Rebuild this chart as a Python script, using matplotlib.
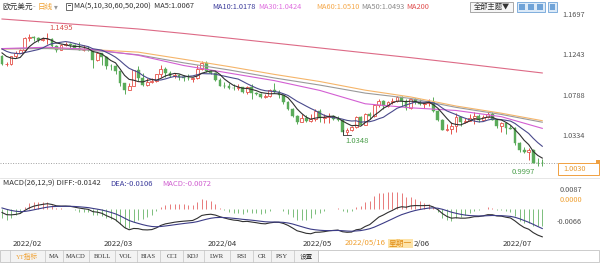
import numpy as np
import pandas as pd
import matplotlib
matplotlib.use("Agg")
import matplotlib.pyplot as plt
from matplotlib.patches import Rectangle
from matplotlib.transforms import blended_transform_factory

plt.rcParams['font.family'] = ['Noto Sans CJK SC', 'DejaVu Sans']

W, H = 600, 267

# closes before the first visible candle (warm-up for MA5 / MA10 / MACD)
pre_close = [1.1285, 1.1260, 1.1290, 1.1330, 1.1240, 1.1280, 1.1280, 1.1330,
             1.1330, 1.1320, 1.1330, 1.1310, 1.1350, 1.1325, 1.1370, 1.1300,
             1.1290, 1.1315, 1.1295, 1.1360, 1.1325, 1.1365, 1.1440, 1.1455,
             1.1410, 1.1405, 1.1325, 1.1345, 1.1310, 1.1345, 1.1325, 1.1302,
             1.1240]

# daily candles 2022-01-27 .. 2022-07-13
opens = [1.1240, 1.1142, 1.1147,
         1.1235, 1.1270, 1.1303, 1.1440, 1.1453, 1.1440, 1.1418, 1.1422, 1.1425, 1.1350,
         1.1305, 1.1358, 1.1375, 1.1360, 1.1322, 1.1307, 1.1308, 1.1307, 1.1190, 1.1270,
         1.1220, 1.1125, 1.1120, 1.1065, 1.0930, 1.0855, 1.0900, 1.1075, 1.0985, 1.0912,
         1.0940, 1.0955, 1.1030, 1.1090, 1.1050, 1.1015, 1.1020, 1.1005, 1.0995, 1.0980,
         1.0985, 1.1090, 1.1160,
         1.1067, 1.1045, 1.0970, 1.0905, 1.0900, 1.0880, 1.0877, 1.0885, 1.0830, 1.0890,
         1.0825, 1.0810, 1.0780, 1.0790, 1.0855, 1.0835, 1.0795, 1.0715, 1.0640, 1.0560,
         1.0500,
         1.0545, 1.0505, 1.0525, 1.0620, 1.0540, 1.0550, 1.0560, 1.0530, 1.0515, 1.0380,
         1.0410, 1.0435, 1.0550, 1.0465, 1.0585, 1.0560, 1.0690, 1.0735, 1.0675, 1.0725,
         1.0730, 1.0780,
         1.0735, 1.0650, 1.0750, 1.0720, 1.0695, 1.0705, 1.0715, 1.0615, 1.0520, 1.0410,
         1.0415, 1.0445, 1.0550, 1.0495, 1.0510, 1.0535, 1.0565, 1.0520, 1.0555, 1.0585,
         1.0520, 1.0445,
         1.0485, 1.0425, 1.0425, 1.0265, 1.0180, 1.0160, 1.0185, 1.0040, 1.0035]
highs = [1.1245, 1.1174, 1.1240,
         1.1290, 1.1315, 1.1450, 1.1483, 1.1460, 1.1450, 1.1450, 1.1495, 1.1440, 1.1365,
         1.1370, 1.1395, 1.1385, 1.1375, 1.1395, 1.1360, 1.1345, 1.1320, 1.1275, 1.1275,
         1.1235, 1.1150, 1.1140, 1.1070, 1.0935, 1.0935, 1.1080, 1.1121, 1.1045, 1.0990,
         1.0990, 1.1040, 1.1137, 1.1110, 1.1070, 1.1045, 1.1035, 1.1025, 1.1035, 1.1000,
         1.1137, 1.1185, 1.1175,
         1.1076, 1.1055, 1.0995, 1.0940, 1.0935, 1.0920, 1.0925, 1.0890, 1.0900, 1.0925,
         1.0835, 1.0820, 1.0815, 1.0870, 1.0935, 1.0855, 1.0800, 1.0735, 1.0650, 1.0575,
         1.0590,
         1.0570, 1.0580, 1.0640, 1.0640, 1.0590, 1.0595, 1.0575, 1.0560, 1.0530, 1.0425,
         1.0445, 1.0560, 1.0565, 1.0600, 1.0605, 1.0695, 1.0750, 1.0745, 1.0730, 1.0765,
         1.0787, 1.0785,
         1.0750, 1.0755, 1.0765, 1.0750, 1.0710, 1.0750, 1.0775, 1.0625, 1.0525, 1.0470,
         1.0500, 1.0600, 1.0550, 1.0545, 1.0580, 1.0605, 1.0580, 1.0570, 1.0605, 1.0605,
         1.0530, 1.0490,
         1.0485, 1.0465, 1.0440, 1.0275, 1.0220, 1.0200, 1.0190, 1.0095, 1.0085]
lows = [1.1137, 1.1121, 1.1138,
        1.1210, 1.1265, 1.1290, 1.1410, 1.1410, 1.1390, 1.1400, 1.1375, 1.1340, 1.1280,
        1.1300, 1.1345, 1.1315, 1.1310, 1.1300, 1.1290, 1.1295, 1.1106, 1.1180, 1.1140,
        1.1090, 1.1075, 1.1040, 1.0900, 1.0806, 1.0850, 1.0900, 1.0960, 1.0900, 1.0905,
        1.0930, 1.0945, 1.1000, 1.1004, 1.1000, 1.0995, 1.0965, 1.0960, 1.0970, 1.0945,
        1.0975, 1.1080, 1.1060,
        1.1030, 1.0960, 1.0900, 1.0875, 1.0870, 1.0860, 1.0860, 1.0820, 1.0810, 1.0758,
        1.0800, 1.0760, 1.0770, 1.0780, 1.0825, 1.0760, 1.0695, 1.0635, 1.0555, 1.0470,
        1.0490,
        1.0490, 1.0490, 1.0505, 1.0490, 1.0485, 1.0485, 1.0520, 1.0505, 1.0355, 1.0348,
        1.0390, 1.0425, 1.0460, 1.0460, 1.0530, 1.0550, 1.0665, 1.0640, 1.0665, 1.0700,
        1.0720, 1.0680,
        1.0625, 1.0640, 1.0700, 1.0690, 1.0655, 1.0680, 1.0605, 1.0505, 1.0400, 1.0395,
        1.0360, 1.0380, 1.0445, 1.0485, 1.0505, 1.0470, 1.0500, 1.0515, 1.0545, 1.0515,
        1.0425, 1.0385,
        1.0365, 1.0415, 1.0235, 1.0160, 1.0145, 1.0070, 1.0030, 1.0000, 0.9997]
closes = [1.1145, 1.1147, 1.1235,
          1.1270, 1.1303, 1.1440, 1.1453, 1.1440, 1.1418, 1.1422, 1.1425, 1.1350, 1.1305,
          1.1358, 1.1375, 1.1360, 1.1322, 1.1307, 1.1308, 1.1307, 1.1190, 1.1270, 1.1220,
          1.1125, 1.1120, 1.1065, 1.0930, 1.0855, 1.0900, 1.1075, 1.0985, 1.0912, 1.0940,
          1.0955, 1.1030, 1.1090, 1.1050, 1.1015, 1.1020, 1.1005, 1.0995, 1.0985, 1.0985,
          1.1090, 1.1160, 1.1067,
          1.1045, 1.0970, 1.0905, 1.0900, 1.0880, 1.0877, 1.0885, 1.0830, 1.0890, 1.0825,
          1.0810, 1.0780, 1.0790, 1.0855, 1.0835, 1.0795, 1.0715, 1.0640, 1.0560, 1.0500,
          1.0545,
          1.0505, 1.0525, 1.0620, 1.0540, 1.0550, 1.0560, 1.0530, 1.0515, 1.0380, 1.0410,
          1.0435, 1.0550, 1.0465, 1.0585, 1.0560, 1.0690, 1.0735, 1.0675, 1.0725, 1.0730,
          1.0780, 1.0735,
          1.0650, 1.0750, 1.0720, 1.0695, 1.0705, 1.0715, 1.0615, 1.0520, 1.0410, 1.0415,
          1.0445, 1.0550, 1.0495, 1.0510, 1.0535, 1.0565, 1.0520, 1.0555, 1.0585, 1.0520,
          1.0445, 1.0485,
          1.0425, 1.0422, 1.0265, 1.0180, 1.0160, 1.0185, 1.0040, 1.0035, 1.0030]

month_labels = ['2022/02', '2022/03', '2022/04', '2022/05', '2022/06', '2022/07']
month_first = [3, 23, 46, 67, 89, 111]
hover_label = '2022/05/16'
hover_week = '星期一'
hover_idx = 77

# long moving averages (every 10 candles)
ma_knots = [0, 10, 20, 30, 40, 50, 60, 70, 80, 90, 100, 110, 119]
ma30 = [1.1320, 1.1335, 1.1310, 1.1245, 1.1130, 1.1045, 1.0960, 1.0850, 1.0700,
        1.0655, 1.0625, 1.0555, 1.0424]
ma50 = [1.1318, 1.1320, 1.1300, 1.1250, 1.1160, 1.1080, 1.0990, 1.0910, 1.0820,
        1.0760, 1.0660, 1.0580, 1.0493]
ma60 = [1.1315, 1.1325, 1.1308, 1.1280, 1.1200, 1.1118, 1.1030, 1.0950, 1.0853,
        1.0777, 1.0675, 1.0594, 1.0510]
ma200 = [1.1652, 1.1615, 1.1578, 1.1540, 1.1490, 1.1437, 1.1382, 1.1327, 1.1272,
         1.1218, 1.1160, 1.1100, 1.1046]

price_ticks = [1.1697, 1.1243, 1.0788, 1.0334]
last_price = 1.0030

RED = '#e5534b'
GREEN = '#5aab5a'

# ---- indicators ----
n_pre = len(pre_close)
all_close = pd.Series(pre_close + closes)
ma5 = all_close.rolling(5).mean().iloc[n_pre:].values
ma10 = all_close.rolling(10).mean().iloc[n_pre:].values
ema12 = all_close.ewm(span=12, adjust=False).mean()
ema26 = all_close.ewm(span=26, adjust=False).mean()
dif_all = ema12 - ema26
dea_all = dif_all.ewm(span=9, adjust=False).mean()
dif = dif_all.iloc[n_pre:].values
dea = dea_all.iloc[n_pre:].values
hist = 2 * (dif - dea)

o = np.array(opens); h = np.array(highs); l = np.array(lows); c = np.array(closes)
x = np.arange(len(c))
up = c >= o

fig = plt.figure(figsize=(W / 100, H / 100), dpi=100)
fig.patch.set_facecolor('white')


def ftext(px, py, s, **kw):
    kw.setdefault('va', 'center')
    kw.setdefault('fontsize', 5.5)
    return fig.text(px / W, 1 - py / H, s, **kw)


def frect(x0, y0, x1, y1, **kw):
    r = Rectangle((x0 / W, 1 - y1 / H), (x1 - x0) / W, (y1 - y0) / H,
                  transform=fig.transFigure, **kw)
    fig.add_artist(r)
    return r


# ---- price panel ----
ax = fig.add_axes([0, 1 - 176 / H, 548 / W, 164 / H])
ax.set_xlim(-0.44, 120.26)
ax.set_ylim(0.98890, 1.17307)
ax.axis('off')

ax.vlines(x, l, h, colors=np.where(up, RED, GREEN), lw=0.7, zorder=2)
ax.bar(x[up], (c - o)[up], bottom=o[up], width=0.62, facecolor='white',
       edgecolor=RED, lw=0.6, zorder=3)
ax.bar(x[~up], (o - c)[~up], bottom=c[~up], width=0.62, color=GREEN,
       edgecolor=GREEN, lw=0.3, zorder=3)

ax.plot(ma_knots, ma200, color='#dd6a86', lw=0.8, zorder=4)
ax.plot(ma_knots, ma60, color='#f5b56a', lw=0.8, zorder=4)
ax.plot(ma_knots, ma50, color='#9a9a9a', lw=0.8, zorder=4)
ax.plot(ma_knots, ma30, color='#d35fd3', lw=0.8, zorder=4)
ax.plot(x, ma10, color='#4a4a8c', lw=0.8, zorder=5)
ax.plot(x, ma5, color='#303030', lw=0.8, zorder=5)

ax.hlines(last_price, -0.44, 122.5, colors='#a0a0a0', lw=0.7,
          linestyles=(0, (1, 1.6)), clip_on=False, zorder=1)

tr = blended_transform_factory(ax.transAxes, ax.transData)
for p in price_ticks:
    ax.text(562 / 548, p, f'{p:.4f}', transform=tr, fontsize=5.3, color='#555555',
            va='center', ha='left', clip_on=False)

i_hi = int(np.argmax(h))
ax.annotate(f'{h[i_hi]:.4f}', (i_hi, h[i_hi]), xytext=(1.5, 1), textcoords='offset points',
            ha='left', va='bottom', fontsize=5.5, color='#d9534f')
i_lo = 60 + int(np.argmin(l[60:90]))
ax.annotate(f'{l[i_lo]:.4f}', (i_lo, l[i_lo]), xytext=(-1, -1.5), textcoords='offset points',
            ha='left', va='top', fontsize=5.5, color='#4a9e4a')
ax.plot([i_lo - 1, i_lo - 1, i_lo + 0.8], [l[i_lo] + 0.006, l[i_lo], l[i_lo]],
        color='#333333', lw=0.6, zorder=5)
i_min = int(np.argmin(l))
ax.annotate(f'{l[i_min]:.4f}', (i_min, l[i_min]), xytext=(-5, -1.2), textcoords='offset points',
            ha='right', va='top', fontsize=5.5, color='#4a9e4a')

# ---- MACD panel ----
ax2 = fig.add_axes([0, 1 - 243 / H, 548 / W, 57 / H])
ax2.set_xlim(-0.44, 120.26)
ax2.set_ylim(-0.017, 0.0115)
ax2.axis('off')
ax2.vlines(x, 0, hist, colors=np.where(hist >= 0, '#e87a7a', '#7cbf7c'), lw=0.7)
ax2.plot(x, dif, color='#303030', lw=0.8)
ax2.plot(x, dea, color='#3c3c86', lw=0.8)

# month labels; the hover date box hides the front of the June label
tr2 = blended_transform_factory(ax2.transData, ax2.transAxes)
for lab, i0 in zip(month_labels, month_first):
    if lab == '2022/06':
        lab = lab[-4:]
        i0 = i0 + 2.3
    ax2.text(i0 - 0.7, -0.02, lab, transform=tr2, fontsize=5.6, color='#333333',
             ha='left', va='center', clip_on=False)

hx = 2 + (hover_idx - 1.5) * 4.54
ftext(hx, 243.5, hover_label, color='#f0a030', fontsize=5.6, zorder=3)
ftext(hx + 44, 243.5, hover_week, color='#e08a10', fontsize=5.6, zorder=3,
      bbox=dict(boxstyle='square,pad=0.1', fc='#fde3a8', ec='none'))

# ---- header ----
ftext(2, 7, '欧元美元', color='#333333')
ftext(33, 7, '-', color='#999999')
ftext(38, 7, '日线', color='#f0a030')
ftext(54, 7, '▾', color='#999999', family=['DejaVu Sans'])
frect(66, 3, 72, 10, facecolor='none', edgecolor='#555555', lw=0.6)
frect(67.5, 5, 70.5, 6, facecolor='#555555', edgecolor='none')
ftext(74, 7, 'MA(5,10,30,60,50,200)  MA5:1.0067', color='#333333', fontsize=5.4)
ftext(212, 7, 'MA10:1.0178', color='#3b3b9b', fontsize=5.3)
ftext(258, 7, 'MA30:1.0424', color='#e070e0', fontsize=5.3)
ftext(316, 7, 'MA60:1.0510', color='#f5a94c', fontsize=5.3)
ftext(361, 7, 'MA50:1.0493', color='#8a8a8a', fontsize=5.3)
ftext(406, 7, 'MA200', color='#e05050', fontsize=5.3)

frect(470, 1.5, 513, 12, facecolor='#f6f6f6', edgecolor='#9a9a9a', lw=0.6)
ftext(491.5, 7, '全部主题▼', color='#333333', ha='center', fontsize=5.2,
      family=['Noto Sans CJK SC', 'DejaVu Sans'])
frect(517, 1.5, 545, 12, facecolor='#dceaf8', edgecolor='#6fa3d8', lw=0.6)
for bx in [519, 528, 537]:
    frect(bx, 4, bx + 6, 9.5, facecolor='#6fa3d8', edgecolor='none')
frect(548, 1.5, 557, 12, facecolor='#dceaf8', edgecolor='#6fa3d8', lw=0.6)
frect(550, 4, 555, 9.5, facecolor='#6fa3d8', edgecolor='none')

# current price box
frect(558, 163, 599, 175, facecolor='white', edgecolor='#f0a040', lw=0.7)
frect(596, 160, 600, 164, facecolor='#f0a040', edgecolor='none')
ftext(563, 169, f'{last_price:.4f}', color='#e89a30', fontsize=5.3)

# panel divider
fig.add_artist(plt.Line2D([0, 1], [1 - 178 / H, 1 - 178 / H], transform=fig.transFigure,
                          color='#e2e2e2', lw=0.6))

# MACD header / labels
ftext(3, 184, 'MACD(26,12,9) DIFF:-0.0142', color='#333333')
ftext(110, 184, 'DEA:-0.0106', color='#3b3b9b')
ftext(162, 184, 'MACD:-0.0072', color='#d060d0')
ftext(560, 190, '0.0087', color='#555555', fontsize=5.3)
ftext(560, 200, '0.0000', color='#f0a030', fontsize=5.3)
ftext(557, 222, '-0.0066', color='#555555', fontsize=5.3)

# ---- bottom tab bar ----
frect(0, 250, 318, 262, facecolor='#f3f3f3', edgecolor='#c4c4c4', lw=0.6)
frect(318, 250, 599, 262, facecolor='white', edgecolor='#c4c4c4', lw=0.6)
for sx in [10, 45, 63, 89, 115, 137, 160, 183, 204, 230, 253, 271, 294]:
    fig.add_artist(plt.Line2D([sx / W, sx / W], [1 - 262 / H, 1 - 250 / H],
                              transform=fig.transFigure, color='#c4c4c4', lw=0.5))
tabs = ['YT指标', 'MA', 'MACD', 'BOLL', 'VOL', 'BIAS', 'CCI', 'KDJ', 'LWR', 'RSI', 'CR', 'PSY', '设置']
tab_x = [27, 54, 76, 102, 126, 148, 172, 193, 217, 242, 262, 282, 306]
for t, tx in zip(tabs, tab_x):
    ftext(tx, 256, t, ha='center', fontsize=4.8,
          color='#f0a030' if t == 'YT指标' else '#333333',
          family=['Liberation Serif', 'Noto Sans CJK SC'])

fig.savefig('out.png', dpi=100)
